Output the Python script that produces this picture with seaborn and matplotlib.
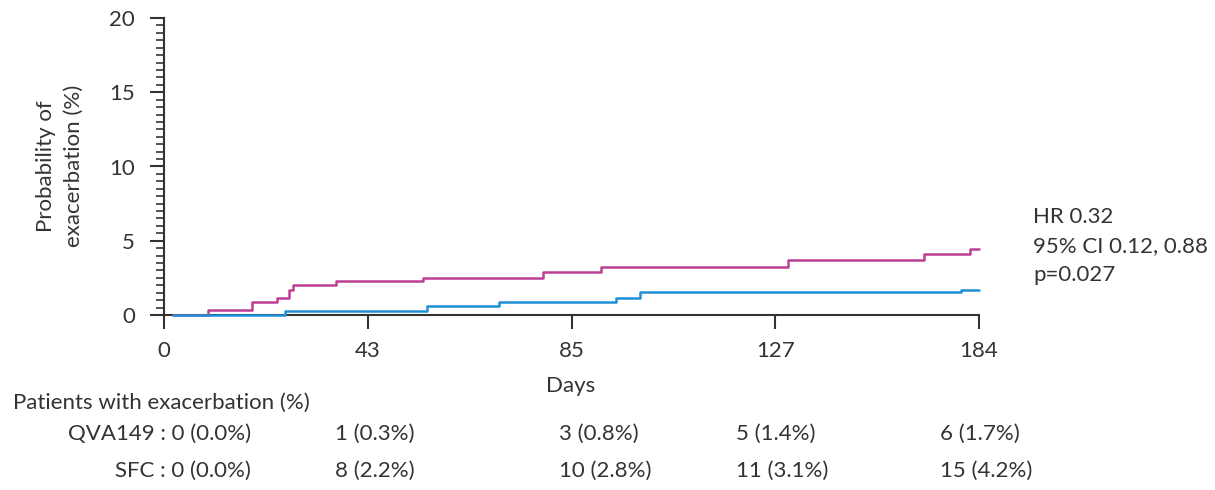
import numpy as np
import pandas as pd
import matplotlib
matplotlib.use("Agg")
import matplotlib.pyplot as plt
import seaborn as sns
from matplotlib.ticker import MultipleLocator, FixedLocator

# ---- data ----
tick_days = [0, 43, 85, 127, 184]
tick_labels = ["0", "43", "85", "127", "184"]

qva_days = [2, 25.5, 55.2, 70.0, 94.1, 99.1, 179, 184]
qva_prob = [0, 0.29, 0.63, 0.90, 1.17, 1.52, 1.68, 1.68]

sfc_days = [2, 9.3, 18.6, 23.9, 26.4, 27.2, 36.3, 54.4, 79.1, 91, 130.6, 168.6, 181.5, 184]
sfc_prob = [0, 0.35, 0.90, 1.17, 1.68, 2.02, 2.29, 2.50, 2.90, 3.25, 3.70, 4.09, 4.44, 4.44]

table_header = "Patients with exacerbation (%)"
qva_row = ["QVA149 : 0 (0.0%)", "1 (0.3%)", "3 (0.8%)", "5 (1.4%)", "6 (1.7%)"]
sfc_row = ["SFC : 0 (0.0%)", "8 (2.2%)", "10 (2.8%)", "11 (3.1%)", "15 (4.2%)"]
stats_text = ["HR 0.32", "95% CI 0.12, 0.88", "p=0.027"]

# ---- style ----
sns.set_style("white")
plt.rcParams["font.family"] = ["Lato", "DejaVu Sans"]
TXT = "#333333"
FS = 16

W, H = 1215, 490
fig = plt.figure(figsize=(W / 100, H / 100), dpi=100)
ax = fig.add_axes([164 / W, 1 - 315 / H, (979 - 164) / W, (315 - 18) / H])

pos = [0, 1, 2, 3, 4]
fwd = lambda d: np.interp(d, tick_days, pos)
inv = lambda p: np.interp(p, pos, tick_days)
ax.set_xscale("function", functions=(fwd, inv))

df = pd.concat([
    pd.DataFrame({"day": sfc_days, "prob": sfc_prob, "arm": "SFC"}),
    pd.DataFrame({"day": qva_days, "prob": qva_prob, "arm": "QVA149"}),
])
sns.lineplot(data=df, x="day", y="prob", hue="arm",
             palette={"SFC": "#bd3f95", "QVA149": "#1f8fd6"},
             drawstyle="steps-post", linewidth=1.8, legend=False, ax=ax,
             estimator=None, sort=True, clip_on=False, zorder=5)

ax.set_xlim(0, 184)
ax.set_ylim(0, 20)
ax.xaxis.set_major_locator(FixedLocator(tick_days))
ax.set_xticklabels(tick_labels)
ax.yaxis.set_major_locator(MultipleLocator(5))
ax.yaxis.set_minor_locator(MultipleLocator(0.5))

for s in ["top", "right"]:
    ax.spines[s].set_visible(False)
for s in ["left", "bottom"]:
    ax.spines[s].set_color(TXT)
    ax.spines[s].set_linewidth(1.5)

ax.tick_params(axis="y", which="major", length=10, width=1.5, color=TXT,
               labelsize=FS, labelcolor=TXT, pad=11, left=True)
ax.tick_params(axis="y", which="minor", length=6, width=1.2, color=TXT, left=True)
ax.tick_params(axis="x", which="major", length=10, width=1.5, color=TXT,
               labelsize=FS, labelcolor=TXT, pad=9, bottom=True)
ax.set_xlabel("")
ax.set_ylabel("")

def fx(px):
    return px / W

def fy(py):
    return 1 - py / H

fig.text(fx(60), fy(166), "Probability of\nexacerbation (%)", rotation=90,
         ha="center", va="center", fontsize=FS, color=TXT, linespacing=1.5)
fig.text(fx(571), fy(386), "Days", ha="center", va="center", fontsize=FS, color=TXT)

for i, t in enumerate(stats_text):
    fig.text(fx(1033), fy(217 + 29 * i), t, ha="left", va="center", fontsize=FS, color=TXT)

fig.text(fx(13), fy(403), table_header, ha="left", va="center", fontsize=FS, color=TXT)
col_left = [335, 559, 736, 940]
for row, py in [(qva_row, 434), (sfc_row, 471)]:
    fig.text(fx(251), fy(py), row[0], ha="right", va="center", fontsize=FS, color=TXT)
    for j, t in enumerate(row[1:]):
        fig.text(fx(col_left[j]), fy(py), t, ha="left", va="center", fontsize=FS, color=TXT)

fig.savefig("out.png", dpi=100)
